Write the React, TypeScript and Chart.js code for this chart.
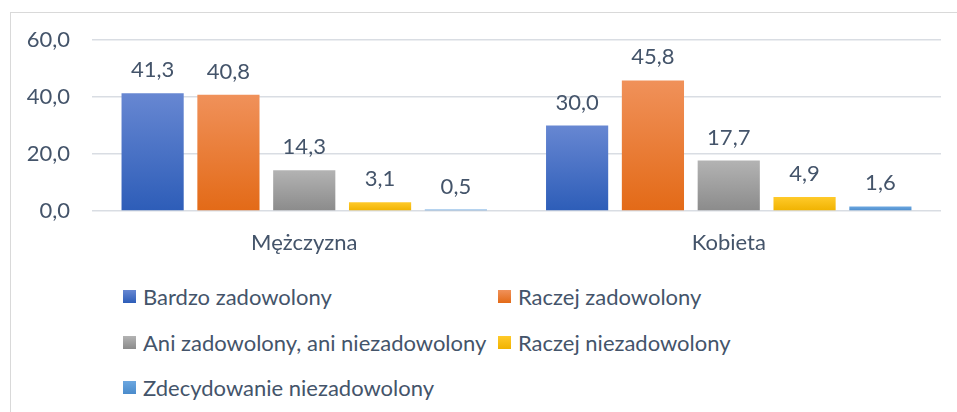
import React, { useEffect, useRef } from "react";
import { Chart, registerables } from "chart.js";

Chart.register(...registerables);

const categories = ["Mężczyzna", "Kobieta"];
const seriesNames = [
  "Bardzo zadowolony",
  "Raczej zadowolony",
  "Ani zadowolony, ani niezadowolony",
  "Raczej niezadowolony",
  "Zdecydowanie niezadowolony",
];
const bardzoZadowolony = [41.3, 30.0];
const raczejZadowolony = [40.8, 45.8];
const aniAni = [14.3, 17.7];
const raczejNiezadowolony = [3.1, 4.9];
const zdecydowanieNiezadowolony = [0.5, 1.6];
const yMin = 0;
const yMax = 60;
const yStep = 20;

const seriesValues = [bardzoZadowolony, raczejZadowolony, aniAni, raczejNiezadowolony, zdecydowanieNiezadowolony];
const gradients: [string, string][] = [
  ["#6787d2", "#2d5db8"],
  ["#f0915a", "#e36a17"],
  ["#b3b3b3", "#8b8b8b"],
  ["#ffca2a", "#f0b200"],
  ["#6ca7e0", "#4a8bcb"],
];

const FONT = "Lato, 'Open Sans', sans-serif";
const FS = 22;
const TEXT = "#44546a";

const fmt = (v: number) => v.toFixed(1).replace(".", ",");

export default function App() {
  const ref = useRef<HTMLCanvasElement>(null);
  useEffect(() => {
    if (!ref.current) return;
    const labelPlugin = {
      id: "valueLabels",
      afterDatasetsDraw(chart: any) {
        const ctx = chart.ctx;
        ctx.save();
        ctx.font = `${FS}px ${FONT}`;
        ctx.fillStyle = TEXT;
        ctx.textAlign = "center";
        ctx.textBaseline = "alphabetic";
        chart.data.datasets.forEach((ds: any, di: number) => {
          const meta = chart.getDatasetMeta(di);
          meta.data.forEach((bar: any, i: number) => {
            ctx.fillText(fmt(ds.data[i]), bar.x, bar.y - 16);
          });
        });
        ctx.restore();
      },
    };
    const chart = new Chart(ref.current, {
      type: "bar",
      data: {
        labels: categories,
        datasets: seriesValues.map((vals, si) => ({
          label: seriesNames[si],
          data: vals,
          backgroundColor: (c: any) => {
            const ch = c.chart;
            const ys = ch.scales && ch.scales.y;
            if (!ys || typeof c.raw !== "number") return gradients[si][1];
            const top = ys.getPixelForValue(c.raw);
            const bottom = ys.getPixelForValue(0);
            if (!isFinite(top) || !isFinite(bottom)) return gradients[si][1];
            const g = ch.ctx.createLinearGradient(0, top, 0, Math.max(bottom, top + 1));
            g.addColorStop(0, gradients[si][0]);
            g.addColorStop(1, gradients[si][1]);
            return g;
          },
          borderWidth: 0,
          categoryPercentage: 0.893,
          barPercentage: 0.82,
        })),
      },
      options: {
        responsive: false,
        animation: false,
        maintainAspectRatio: false,
        layout: { padding: { left: 0, right: 16, top: 40, bottom: 0 } },
        plugins: { legend: { display: false }, tooltip: { enabled: false } },
        scales: {
          x: {
            grid: { display: false, drawTicks: false },
            border: { display: false },
            ticks: { color: TEXT, font: { family: FONT, size: FS }, padding: 19 },
            afterFit: (s: any) => { s.height = 49; },
          },
          y: {
            min: yMin,
            max: yMax,
            grid: { color: "#d9dde3", lineWidth: 1.5, drawTicks: false },
            border: { display: false },
            ticks: {
              stepSize: yStep,
              color: TEXT,
              font: { family: FONT, size: FS },
              padding: 22,
              callback: (v: any) => fmt(Number(v)),
            },
            afterFit: (s: any) => { s.width = 92; },
          },
        },
      },
      plugins: [labelPlugin],
    });
    return () => chart.destroy();
  }, []);

  const legendPos = [
    { x: 123, y: 296 },
    { x: 498, y: 296 },
    { x: 123, y: 342 },
    { x: 498, y: 342 },
    { x: 123, y: 387 },
  ];

  return (
    <div style={{ position: "fixed", left: 0, top: 0, width: 957, height: 412, overflow: "hidden", background: "#fff" }}>
      <div style={{ position: "absolute", left: 10, top: 12, width: 980, height: 440, border: "1.5px solid #d9d9d9", boxSizing: "border-box" }} />
      <canvas ref={ref} width={957} height={260} style={{ position: "absolute", left: 0, top: 0 }} />
      {seriesNames.map((name, i) => (
        <div
          key={name}
          style={{
            position: "absolute",
            left: legendPos[i].x,
            top: legendPos[i].y - 15,
            height: 30,
            display: "flex",
            alignItems: "center",
            fontFamily: FONT,
            fontSize: FS,
            color: TEXT,
            whiteSpace: "nowrap",
          }}
        >
          <span
            style={{
              display: "inline-block",
              width: 13,
              height: 13,
              marginRight: 7,
              background: `linear-gradient(${gradients[i][0]}, ${gradients[i][1]})`,
            }}
          />
          <span>{name}</span>
        </div>
      ))}
    </div>
  );
}
